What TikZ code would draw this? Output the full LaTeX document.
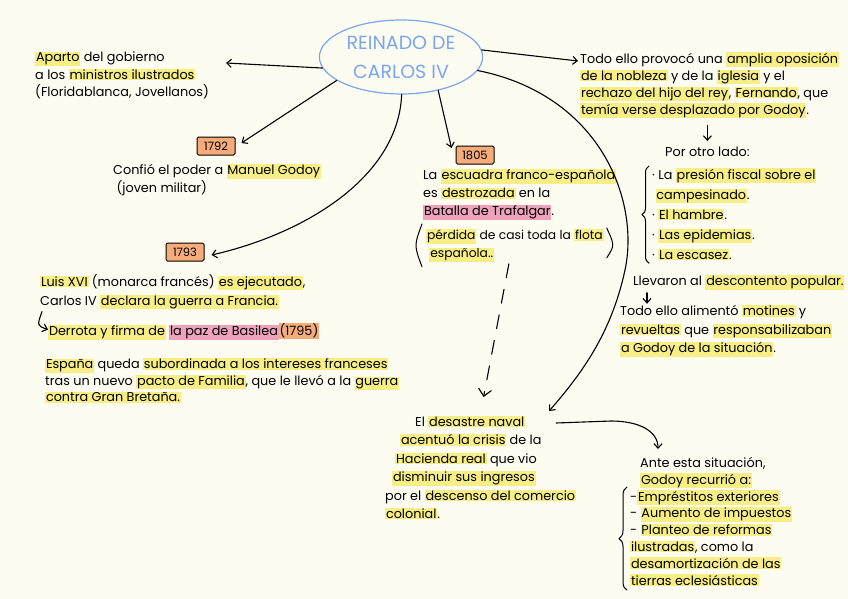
\documentclass[tikz,border=0pt]{standalone}
\usepackage{fontspec}
\setmainfont{Poppins}
\usetikzlibrary{arrows.meta,shapes.geometric,decorations.pathreplacing}
\definecolor{papel}{RGB}{253,252,241}
\definecolor{resal}{RGB}{247,238,133}
\definecolor{rosa}{RGB}{239,162,188}
\definecolor{naranja}{RGB}{246,172,122}
\definecolor{azul}{RGB}{122,166,240}
\setlength{\fboxsep}{0.8pt}
\newcommand{\hl}[1]{\colorbox{resal}{#1}}
\newcommand{\hlp}[1]{\colorbox{rosa}{#1}}
\newcommand{\hlo}[1]{\colorbox{naranja}{#1}}
\tikzset{
  texto/.style={anchor=north west,inner sep=0pt,align=left,font=\fontsize{12.8}{#1}\selectfont},
  texto/.default=17.5,
  anio/.style={draw,fill=naranja,rounded corners=1.5pt,line width=1pt,minimum width=38pt,minimum height=18pt,inner sep=1pt,font=\fontsize{11.5}{12}\selectfont},
  tema/.style={draw=azul,line width=1.2pt,ellipse,minimum width=158pt,minimum height=74pt,text=azul,align=center,font=\fontsize{19}{29}\selectfont},
  flecha/.style={->,line width=1.1pt}
}
\begin{document}
\begin{tikzpicture}[x=1pt,y=-1pt,line join=round,line cap=round,>={Straight Barb[length=4.5pt,width=8pt]}]
\fill[papel] (0,0) rectangle (848,599);
\useasboundingbox (0,0) rectangle (848,599);

\node[tema] (reinado) at (401,57) {REINADO DE\\CARLOS IV};

% izquierda
\node[texto] (aparto) at (35,52) {\hl{Aparto} del gobierno\\a los \hl{ministros ilustrados}\\(Floridablanca, Jovellanos)};
\coordinate (apartofin) at (226,63);
\node[anio] (y1792) at (216,146) {1792};
\node[texto=18] (godoy) at (113,164) {Confió el poder a \hl{Manuel Godoy}\\\ (joven militar)};
\node[anio] (y1793) at (185,252) {1793};
\node[texto=19] (luis) at (40,274) {\hl{Luis XVI} (monarca francés) \hl{es ejecutado},\\Carlos IV \hl{declara la guerra a Francia.}};
\node[texto] (derrota) at (48,323) {\hl{Derrota y firma de} \hlp{la paz de Basilea}\hlo{(1795)}};
\node[texto=16.5] (espana) at (45,358) {\hl{España} queda \hl{subordinada a los intereses franceses}\\tras un nuevo \hl{pacto de Familia}, que le llevó a la \hl{guerra}\\\hl{contra Gran Bretaña.}};

% centro
\node[anio] (y1805) at (475,155) {1805};
\node[texto=18] (trafalgar) at (423,169) {La \hl{escuadra franco-española}\\es \hl{destrozada} en la\\\hlp{Batalla de Trafalgar}.};
\node[texto=18,font=\fontsize{12.3}{18}\selectfont] (perdida) at (426,229) {\hl{pérdida} de casi toda la \hl{flota}\\\ \hl{española..}};
\node[texto=18.4] (desastre) at (385,416) {\hspace*{30pt}El \hl{desastre naval}\\\hspace*{15pt}\hl{acentuó la crisis} de la\\\hspace*{10pt}\hl{Hacienda real} que vio\\\hspace*{7pt}\hl{disminuir sus ingresos}\\por el \hl{descenso del comercio}\\\hl{colonial}.};

% derecha
\node[texto=17] (oposicion) at (580,52) {Todo ello provocó una \hl{amplia oposición}\\\hl{de la nobleza} y de la \hl{iglesia} y el\\\hl{rechazo del hijo del rey}, \hl{Fernando}, que\\\hl{temía verse desplazado por Godoy}.};
\node[texto] (otrolado) at (665,147) {Por otro lado:};
\node[texto=20] (causas) at (652,168) {· La \hl{presión fiscal sobre el}\\\ \hl{campesinado}.\\· \hl{El hambre}.\\· \hl{Las epidemias}.\\· \hl{La escasez}.};
\node[texto] (llevaron) at (633,275) {Llevaron al \hl{descontento popular.}};
\node[texto=18.5] (motines) at (620,305) {Todo ello alimentó \hl{motines} y\\\hl{revueltas} que \hl{responsabilizaban}\\\hl{a Godoy de la situación}.};
\node[texto=17] (ante) at (640,457) {Ante esta situación,\\\hl{Godoy recurrió a:}};
\node[texto=16.8] (medidas) at (630,490) {-\hl{Empréstitos exteriores}\\- \hl{Aumento de impuestos}\\- \hl{Planteo de reformas}\\\hl{ilustradas}, como la\\\hl{desamortización de las}\\\hl{tierras eclesiásticas}};

% flechas
\draw[flecha] (reinado.188) -- (apartofin);
\draw[flecha] (reinado.200) -- ([shift={(6,-3)}]y1792.east);
\draw[flecha] (reinado.271) .. controls (398,180) and (300,235) .. ([shift={(7,3)}]y1793.east);
\draw[flecha] (reinado.318) -- ([shift={(-4,-7)}]y1805.west);
\draw[flecha] (reinado.5) -- ([shift={(-2,9)}]oposicion.north west);
\draw[flecha] (reinado.350) .. controls (600,95) and (640,200) .. (625,270) .. controls (612,330) and (585,370) .. ([shift={(-27,-5)}]desastre.north east);
\draw[flecha,dash pattern=on 14pt off 12pt,-{Straight Barb[length=7pt,width=13pt]}] ([shift={(-6,2)}]perdida.south) -- ([shift={(3,-19)}]desastre.north);
\draw[flecha,shorten <=7pt,shorten >=6pt] (oposicion.south -| otrolado.north) -- (otrolado.north);
\draw[flecha] ([shift={(14,3)}]llevaron.south west) -- ++(0,11);
\draw[flecha] ([shift={(-20,7)}]desastre.north east) -- ++(55,-2) .. controls ++(26,0) and ([shift={(18,-27)}]ante.north west) .. ([shift={(18,-8)}]ante.north west);
\draw[flecha] ([shift={(2,2)}]luis.south west) .. controls ([shift={(-3,16)}]luis.south west) .. ([shift={(0,-2)}]derrota.west);

% llaves y parentesis
\draw[decorate,decoration={brace,amplitude=7pt},line width=1pt] ([shift={(-3,3)}]causas.south west) -- ([shift={(-3,-2)}]causas.north west);
\draw[decorate,decoration={brace,amplitude=8pt},line width=1pt] ([shift={(-3,4)}]medidas.south west) -- ([shift={(-3,-3)}]medidas.north west);
\draw[line width=1pt] ([shift={(-4,-5)}]perdida.north west) .. controls ([shift={(-12,0)}]perdida.west) .. ([shift={(-4,5)}]perdida.south west);
\draw[line width=1pt] ([shift={(3,-1)}]perdida.north east) .. controls ([shift={(11,0)}]perdida.east) .. ([shift={(3,-4)}]perdida.south east);
\end{tikzpicture}
\end{document}
